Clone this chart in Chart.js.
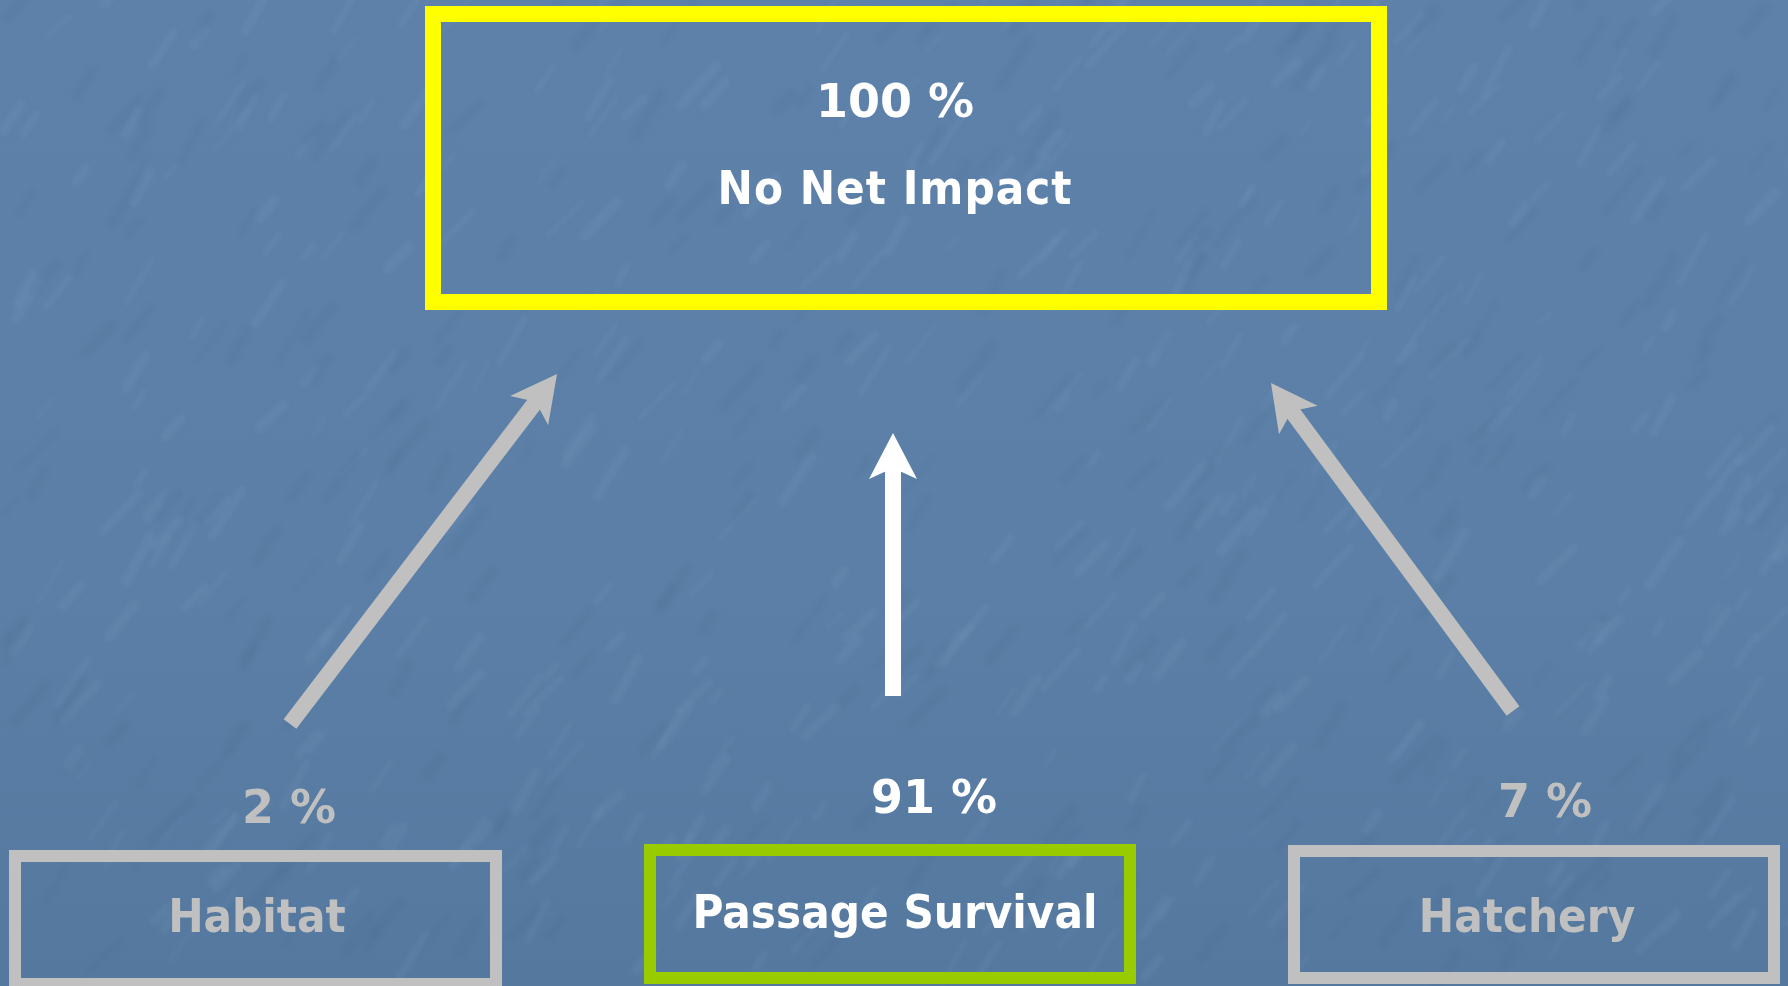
<!DOCTYPE html>
<html>
<head>
<meta charset="utf-8">
<title>No Net Impact</title>
<script src="https://cdn.jsdelivr.net/npm/chart.js@4.4.1/dist/chart.umd.min.js"></script>
<style>
    html, body { margin: 0; padding: 0; background: #5b7fa6; overflow: hidden; }
    canvas { display: block; }
</style>
</head>
<body>
<canvas id="chart" width="1788" height="986"></canvas>
<script>
// Data
const targetLabel = 'No Net Impact';
const targetShare = 100;
const sources = ['Habitat', 'Passage Survival', 'Hatchery'];
const shares = [2, 91, 7];

// Layout (diagram units, same as the 1788x986 frame)
const targetBox = { left: 433, right: 1379, top: 14, bottom: 302 };
const boxLeft = [15, 650, 1294];
const boxRight = [496, 1130, 1774];
const boxTop = [856, 850, 851];
const boxBottom = [984, 978, 978];
const labelX = [257, 895, 1527];
const labelY = [932, 928, 932];
const shareX = [289, 934, 1545];
const shareY = [823, 813, 817];
const arrowFrom = [[290, 724], [893, 696], [1513, 711]];
const arrowTo = [[557, 374], [893, 433], [1271, 383]];

// Styles
const SILVER = '#c0c0c0';
const WHITE = '#ffffff';
const sourceColors = [SILVER, WHITE, SILVER];
const boxColors = [SILVER, '#99cc00', SILVER];
const WORD_FONT = "bold 47px 'DejaVu Sans Condensed', 'DejaVu Sans', sans-serif";
const NUM_FONT = "bold 46px 'DejaVu Sans', sans-serif";

function rectPoints(l, r, t, b) {
    return [{x: l, y: t}, {x: r, y: t}, {x: r, y: b}, {x: l, y: b}, {x: l, y: t}];
}

function shaftPoints(from, to) {
    // stop the shaft under the arrow head
    const dx = to[0] - from[0], dy = to[1] - from[1];
    const len = Math.hypot(dx, dy);
    const k = (len - 30) / len;
    return [{x: from[0], y: from[1]}, {x: from[0] + dx * k, y: from[1] + dy * k}];
}

const datasets = [];

datasets.push({
    data: rectPoints(targetBox.left, targetBox.right, targetBox.top, targetBox.bottom),
    borderColor: '#ffff00',
    borderWidth: 16
});

sources.forEach((name, i) => {
    datasets.push({
        data: rectPoints(boxLeft[i], boxRight[i], boxTop[i], boxBottom[i]),
        borderColor: boxColors[i],
        borderWidth: 12
    });
    datasets.push({
        data: shaftPoints(arrowFrom[i], arrowTo[i]),
        borderColor: sourceColors[i],
        borderWidth: 16,
        borderCapStyle: 'butt',
        arrow: true
    });
});

datasets.forEach(ds => {
    ds.showLine = true;
    ds.pointRadius = 0;
    ds.pointHoverRadius = 0;
    ds.fill = false;
    ds.tension = 0;
    ds.clip = false;
    ds.borderJoinStyle = 'miter';
    if (!ds.borderCapStyle) ds.borderCapStyle = 'square';
});

// small seeded generator, only for the paper texture
let seed = 12345;
function nextSeed() {
    seed = (seed * 1103515245 + 12345) % 2147483648;
    return seed / 2147483648;
}

const backgroundPlugin = {
    id: 'waterBackground',
    beforeDraw(chart) {
        const ctx = chart.ctx;
        const w = chart.width, h = chart.height;
        ctx.save();
        const g = ctx.createLinearGradient(0, 0, 0, h);
        g.addColorStop(0, '#5d81a9');
        g.addColorStop(0.6, '#5b7fa6');
        g.addColorStop(1, '#55789f');
        ctx.fillStyle = g;
        ctx.fillRect(0, 0, w, h);

        // soft diagonal streaks
        seed = 12345;
        ctx.lineCap = 'round';
        ctx.filter = 'blur(2px)';
        for (let k = 0; k < 700; k++) {
            const x = nextSeed() * w;
            const y = nextSeed() * h;
            const len = 15 + nextSeed() * 40;
            const ang = -0.75 - nextSeed() * 0.35;
            const light = nextSeed() > 0.4;
            ctx.strokeStyle = light ? 'rgba(150,180,215,0.10)' : 'rgba(60,90,125,0.08)';
            ctx.lineWidth = 3 + nextSeed() * 8;
            ctx.beginPath();
            ctx.moveTo(x, y);
            ctx.lineTo(x + Math.cos(ang) * len, y + Math.sin(ang) * len);
            ctx.stroke();
        }
        ctx.filter = 'none';
        ctx.restore();
    }
};

const labelPlugin = {
    id: 'diagramLabels',
    afterDatasetsDraw(chart) {
        const ctx = chart.ctx;
        const xs = chart.scales.x, ys = chart.scales.y;
        const px = v => xs.getPixelForValue(v);
        const py = v => ys.getPixelForValue(v);

        // arrow heads
        chart.data.datasets.forEach((ds, di) => {
            if (!ds.arrow) return;
            const i = (di - 2) / 2;
            const tx = px(arrowTo[i][0]), ty = py(arrowTo[i][1]);
            const fx = px(arrowFrom[i][0]), fy = py(arrowFrom[i][1]);
            const len = Math.hypot(tx - fx, ty - fy);
            const ux = (tx - fx) / len, uy = (ty - fy) / len;
            const nx = -uy, ny = ux;
            const headLen = 46, halfW = 24, notch = 35;
            ctx.save();
            ctx.fillStyle = ds.borderColor;
            ctx.beginPath();
            ctx.moveTo(tx, ty);
            ctx.lineTo(tx - ux * headLen + nx * halfW, ty - uy * headLen + ny * halfW);
            ctx.lineTo(tx - ux * notch, ty - uy * notch);
            ctx.lineTo(tx - ux * headLen - nx * halfW, ty - uy * headLen - ny * halfW);
            ctx.closePath();
            ctx.fill();
            ctx.restore();
        });

        ctx.save();
        ctx.textAlign = 'center';
        ctx.textBaseline = 'alphabetic';

        const cx = (targetBox.left + targetBox.right) / 2 - 11;
        ctx.fillStyle = WHITE;
        ctx.font = NUM_FONT;
        ctx.fillText(targetShare + ' %', px(cx), py(117));
        ctx.font = WORD_FONT;
        ctx.letterSpacing = '1px';
        ctx.fillText(targetLabel, px(cx), py(204));
        ctx.letterSpacing = '0px';

        sources.forEach((name, i) => {
            ctx.fillStyle = sourceColors[i];
            ctx.font = NUM_FONT;
            ctx.fillText(shares[i] + ' %', px(shareX[i]), py(shareY[i]));
            ctx.font = WORD_FONT;
            ctx.fillText(name, px(labelX[i]), py(labelY[i]));
        });
        ctx.restore();
    }
};

new Chart(document.getElementById('chart'), {
    type: 'scatter',
    data: { datasets: datasets },
    options: {
        responsive: false,
        animation: false,
        events: [],
        layout: { padding: 0 },
        plugins: {
            legend: { display: false },
            tooltip: { enabled: false }
        },
        scales: {
            x: { type: 'linear', min: 0, max: 1788, display: false },
            y: { type: 'linear', min: 0, max: 986, reverse: true, display: false }
        }
    },
    plugins: [backgroundPlugin, labelPlugin]
});
</script>
</body>
</html>
